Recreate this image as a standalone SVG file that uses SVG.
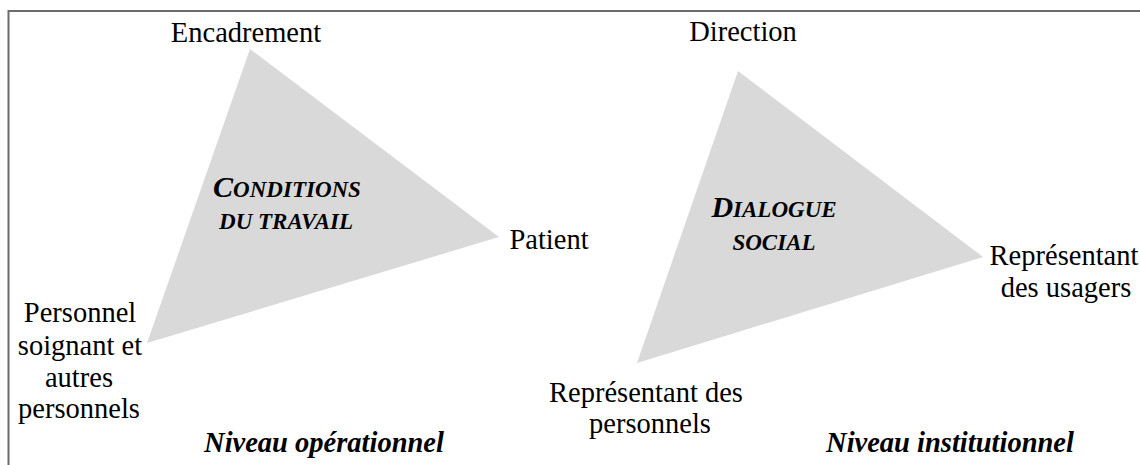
<svg xmlns="http://www.w3.org/2000/svg" width="1140" height="465" viewBox="0 0 1140 465">
  <style>
    .lbl { font-family: "Liberation Serif", "Times New Roman", serif; font-size: 28.5px; fill: #000; }
    .ttl { font-family: "Liberation Serif", "Times New Roman", serif; font-size: 28.5px; font-weight: bold; font-style: italic; fill: #000; }
    .sc { font-family: "Liberation Serif", "Times New Roman", serif; font-weight: bold; font-style: italic; fill: #000; font-size: 23px; }
    .scb { font-size: 30px; }
    .tri { fill: #d9d9d9; stroke: none; }
  </style>
  <rect x="0" y="0" width="1140" height="465" fill="#fff"/>
  <rect id="frame" x="8.5" y="11" width="1150" height="470" fill="none" stroke="#6b6b6b" stroke-width="2"/>
  <g id="connectors"></g>
  <g id="triangle-operationnel">
    <polygon class="tri" points="250,49 499,237 147,343"/>
    <text class="sc" text-anchor="middle"><tspan x="287" y="197"><tspan class="scb">C</tspan>ONDITIONS</tspan><tspan x="286" y="229">DU TRAVAIL</tspan></text>
  </g>
  <g id="triangle-institutionnel">
    <polygon class="tri" points="738,71 983,257 637,363"/>
    <text class="sc" text-anchor="middle"><tspan x="774" y="217"><tspan class="scb">D</tspan>IALOGUE</tspan><tspan x="774" y="250">SOCIAL</tspan></text>
  </g>
  <g id="node-encadrement"><text class="lbl" x="246" y="42" text-anchor="middle">Encadrement</text></g>
  <g id="node-patient"><text class="lbl" x="549" y="249" text-anchor="middle">Patient</text></g>
  <g id="node-personnel-soignant">
    <text class="lbl" text-anchor="middle"><tspan x="80" y="322">Personnel</tspan><tspan x="80" y="355">soignant et</tspan><tspan x="79" y="387">autres</tspan><tspan x="79" y="418">personnels</tspan></text>
  </g>
  <g id="node-direction"><text class="lbl" x="743" y="41" text-anchor="middle">Direction</text></g>
  <g id="node-representant-usagers">
    <text class="lbl" text-anchor="middle"><tspan x="1064" y="265">Représentant</tspan><tspan x="1066" y="297">des usagers</tspan></text>
  </g>
  <g id="node-representant-personnels">
    <text class="lbl" text-anchor="middle"><tspan x="646" y="402">Représentant des</tspan><tspan x="650" y="433">personnels</tspan></text>
  </g>
  <g id="label-operationnel"><text class="ttl" x="324" y="452" text-anchor="middle">Niveau opérationnel</text></g>
  <g id="label-institutionnel"><text class="ttl" x="950" y="452" text-anchor="middle">Niveau institutionnel</text></g>
</svg>
